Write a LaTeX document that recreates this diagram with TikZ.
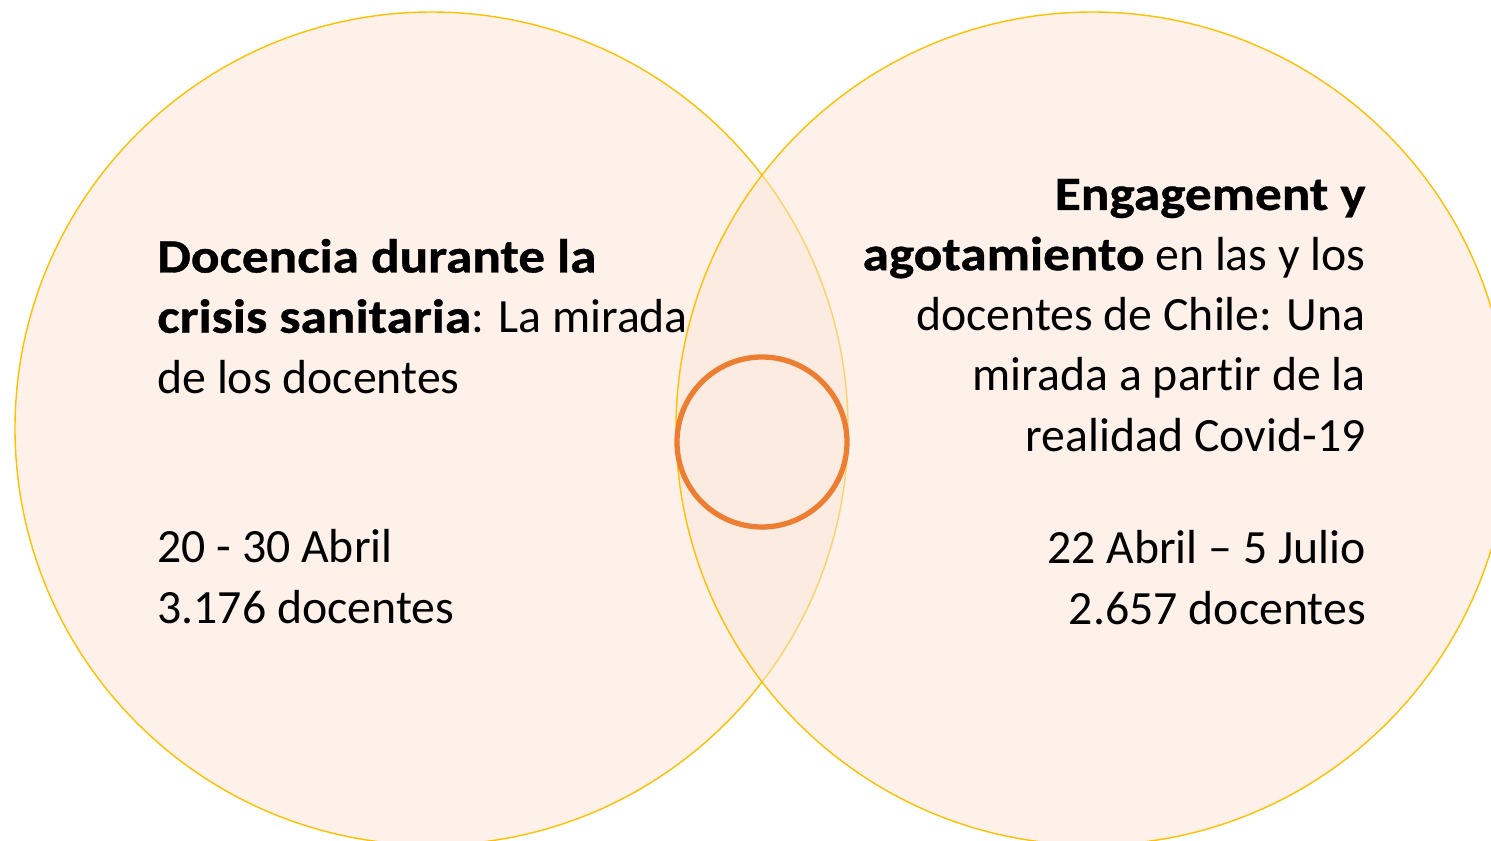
\documentclass[tikz,border=0pt]{standalone}
\usepackage{fontspec}
\setmainfont{Carlito}[Ligatures=NoCommon]
\definecolor{peach}{RGB}{251,228,214}
\definecolor{ringgold}{RGB}{255,192,0}
\definecolor{ringorange}{RGB}{237,125,49}
\newcommand{\venntext}{\fontsize{27.2pt}{34.3pt}\selectfont}
\newcommand{\vennbold}[1]{{\bfseries\addfontfeature{FakeStretch=1.115,FakeBold=0.8}#1}}

\begin{document}
\begin{tikzpicture}[x=0.02cm,y=-0.02cm]
            \useasboundingbox (0,0) rectangle (1491,840);
            \clip (0,0) rectangle (1491,840);

            % the two studies
            \draw[ringgold,line width=0.8pt,fill=peach,fill opacity=0.5] (431.5,428.5) circle [radius=416.5];
            \draw[ringgold,line width=0.8pt,fill=peach,fill opacity=0.5] (1092.5,428.5) circle [radius=416.5];

            % overlap
            \draw[ringorange,line width=3pt] (762,442) circle [radius=85];

            \node[anchor=base west,align=left,inner sep=0pt,font=\venntext] (left) at (157,393)
                {\vennbold{Docencia durante la}\\\vennbold{crisis sanitaria}: La mirada\\de los docentes};
            \node[anchor=base west,align=left,inner sep=0pt,font=\venntext] (leftdata) at (157,623)
                {20 - 30 Abril\\3.176 docentes};

            \node[anchor=base east,align=right,inner sep=0pt,font=\venntext] (right) at (1366,451)
                {\vennbold{Engagement y}\\\vennbold{agotamiento} en las y los\\docentes de Chile: Una\\mirada a partir de la\\realidad Covid-19};
            \node[anchor=base east,align=right,inner sep=0pt,font=\venntext] (rightdata) at (1366,624)
                {22 Abril -- 5 Julio\\2.657 docentes};
        \end{tikzpicture}
\end{document}
